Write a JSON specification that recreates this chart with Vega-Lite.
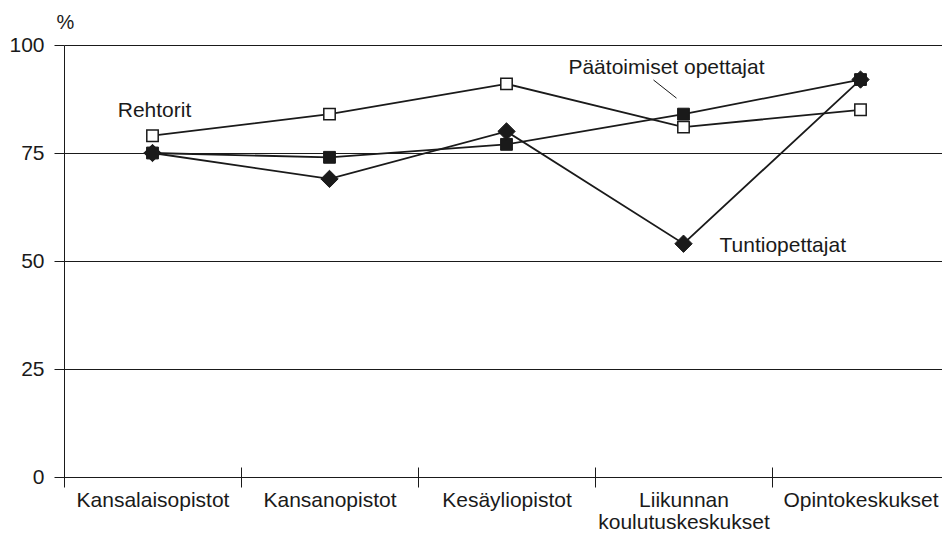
{
  "$schema": "https://vega.github.io/schema/vega-lite/v6.json",
  "autosize": {"type": "none"},
  "padding": {"left": 64, "top": 45, "right": 0, "bottom": 61},
  "width": 878,
  "height": 432,
  "background": "white",
  "config": {
    "font": "Liberation Sans",
    "view": {"stroke": null},
    "axis": {"labelFont": "Liberation Sans", "titleFont": "Liberation Sans"}
  },
  "datasets": {
    "series": [
      {"oppilaitos": "Kansalaisopistot", "ryhma": "Rehtorit", "osuus": 79},
      {"oppilaitos": "Kansanopistot", "ryhma": "Rehtorit", "osuus": 84},
      {"oppilaitos": "Kesäyliopistot", "ryhma": "Rehtorit", "osuus": 91},
      {"oppilaitos": "Liikunnan koulutuskeskukset", "ryhma": "Rehtorit", "osuus": 81},
      {"oppilaitos": "Opintokeskukset", "ryhma": "Rehtorit", "osuus": 85},
      {"oppilaitos": "Kansalaisopistot", "ryhma": "Päätoimiset opettajat", "osuus": 75},
      {"oppilaitos": "Kansanopistot", "ryhma": "Päätoimiset opettajat", "osuus": 74},
      {"oppilaitos": "Kesäyliopistot", "ryhma": "Päätoimiset opettajat", "osuus": 77},
      {"oppilaitos": "Liikunnan koulutuskeskukset", "ryhma": "Päätoimiset opettajat", "osuus": 84},
      {"oppilaitos": "Opintokeskukset", "ryhma": "Päätoimiset opettajat", "osuus": 92},
      {"oppilaitos": "Kansalaisopistot", "ryhma": "Tuntiopettajat", "osuus": 75},
      {"oppilaitos": "Kansanopistot", "ryhma": "Tuntiopettajat", "osuus": 69},
      {"oppilaitos": "Kesäyliopistot", "ryhma": "Tuntiopettajat", "osuus": 80},
      {"oppilaitos": "Liikunnan koulutuskeskukset", "ryhma": "Tuntiopettajat", "osuus": 54},
      {"oppilaitos": "Opintokeskukset", "ryhma": "Tuntiopettajat", "osuus": 92}
    ]
  },
  "layer": [
    {
      "data": {"name": "series"},
      "mark": {"type": "line", "color": "#1a1a1a", "strokeWidth": 1.8},
      "encoding": {
        "x": {
          "field": "oppilaitos",
          "type": "nominal",
          "sort": null,
          "scale": {"range": [0, 885], "paddingInner": 0, "paddingOuter": 0},
          "axis": {
            "title": null,
            "domain": false,
            "offset": -10,
            "tickBand": "extent",
            "tickSize": 20,
            "tickColor": "#1a1a1a",
            "tickWidth": 1,
            "labelAngle": 0,
            "labelFontSize": 21,
            "labelColor": "#1a1a1a",
            "labelPadding": 2,
            "labelBaseline": "top",
            "labelLimit": 0,
            "labelOverlap": false,
            "labelLineHeight": 22,
            "labelExpr": "datum.value == 'Liikunnan koulutuskeskukset' ? ['Liikunnan', 'koulutuskeskukset'] : datum.value"
          }
        },
        "y": {
          "field": "osuus",
          "type": "quantitative",
          "scale": {"domain": [0, 100], "nice": false},
          "axis": {
            "values": [0, 25, 50, 75, 100],
            "domain": true,
            "domainColor": "#1a1a1a",
            "domainWidth": 1,
            "grid": true,
            "gridColor": "#1a1a1a",
            "gridWidth": 1,
            "gridOpacity": 1,
            "tickSize": 10,
            "tickColor": "#1a1a1a",
            "labelFontSize": 21,
            "labelColor": "#1a1a1a",
            "labelPadding": 10,
            "title": "%",
            "titleAngle": 0,
            "titleX": 1,
            "titleY": -23,
            "titleAlign": "center",
            "titleBaseline": "middle",
            "titleFontSize": 20,
            "titleFontWeight": "normal",
            "titleColor": "#1a1a1a"
          }
        },
        "detail": {"field": "ryhma"}
      }
    },
    {
      "data": {"name": "series"},
      "transform": [{"filter": "datum.ryhma == 'Rehtorit'"}],
      "mark": {"type": "point", "shape": "square", "size": 130, "filled": true, "fill": "white", "stroke": "#1a1a1a", "strokeWidth": 1.5, "opacity": 1},
      "encoding": {
        "x": {"field": "oppilaitos", "type": "nominal", "sort": null},
        "y": {"field": "osuus", "type": "quantitative"}
      }
    },
    {
      "data": {"name": "series"},
      "transform": [{"filter": "datum.ryhma == 'Päätoimiset opettajat'"}],
      "mark": {"type": "point", "shape": "square", "size": 140, "filled": true, "fill": "#1a1a1a", "stroke": "#1a1a1a", "strokeWidth": 1, "opacity": 1},
      "encoding": {
        "x": {"field": "oppilaitos", "type": "nominal", "sort": null},
        "y": {"field": "osuus", "type": "quantitative"}
      }
    },
    {
      "data": {"name": "series"},
      "transform": [{"filter": "datum.ryhma == 'Tuntiopettajat'"}],
      "mark": {"type": "point", "shape": "diamond", "size": 300, "filled": true, "fill": "#1a1a1a", "stroke": "#1a1a1a", "strokeWidth": 1, "opacity": 1},
      "encoding": {
        "x": {"field": "oppilaitos", "type": "nominal", "sort": null},
        "y": {"field": "osuus", "type": "quantitative"}
      }
    },
    {
      "data": {"values": [{"oppilaitos": "Kansalaisopistot", "osuus": 84.7, "nimi": "Rehtorit"}]},
      "mark": {"type": "text", "fontSize": 21, "color": "#1a1a1a", "align": "center", "baseline": "middle", "dx": 2},
      "encoding": {
        "x": {"field": "oppilaitos", "type": "nominal", "sort": null},
        "y": {"field": "osuus", "type": "quantitative"},
        "text": {"field": "nimi"}
      }
    },
    {
      "data": {"values": [{"oppilaitos": "Liikunnan koulutuskeskukset", "osuus": 94.7, "nimi": "Päätoimiset opettajat"}]},
      "mark": {"type": "text", "fontSize": 21, "color": "#1a1a1a", "align": "center", "baseline": "middle", "dx": -17},
      "encoding": {
        "x": {"field": "oppilaitos", "type": "nominal", "sort": null},
        "y": {"field": "osuus", "type": "quantitative"},
        "text": {"field": "nimi"}
      }
    },
    {
      "data": {"values": [{"oppilaitos": "Liikunnan koulutuskeskukset", "osuus": 53.5, "nimi": "Tuntiopettajat"}]},
      "mark": {"type": "text", "fontSize": 21, "color": "#1a1a1a", "align": "left", "baseline": "middle", "dx": 36},
      "encoding": {
        "x": {"field": "oppilaitos", "type": "nominal", "sort": null},
        "y": {"field": "osuus", "type": "quantitative"},
        "text": {"field": "nimi"}
      }
    },
    {
      "data": {"values": [{"oppilaitos": "Liikunnan koulutuskeskukset", "alku": 91.9, "loppu": 87.7}]},
      "mark": {"type": "rule", "color": "#1a1a1a", "strokeWidth": 1, "xOffset": -30, "x2Offset": -7},
      "encoding": {
        "x": {"field": "oppilaitos", "type": "nominal", "sort": null},
        "x2": {"field": "oppilaitos"},
        "y": {"field": "alku", "type": "quantitative"},
        "y2": {"field": "loppu"}
      }
    }
  ]
}
